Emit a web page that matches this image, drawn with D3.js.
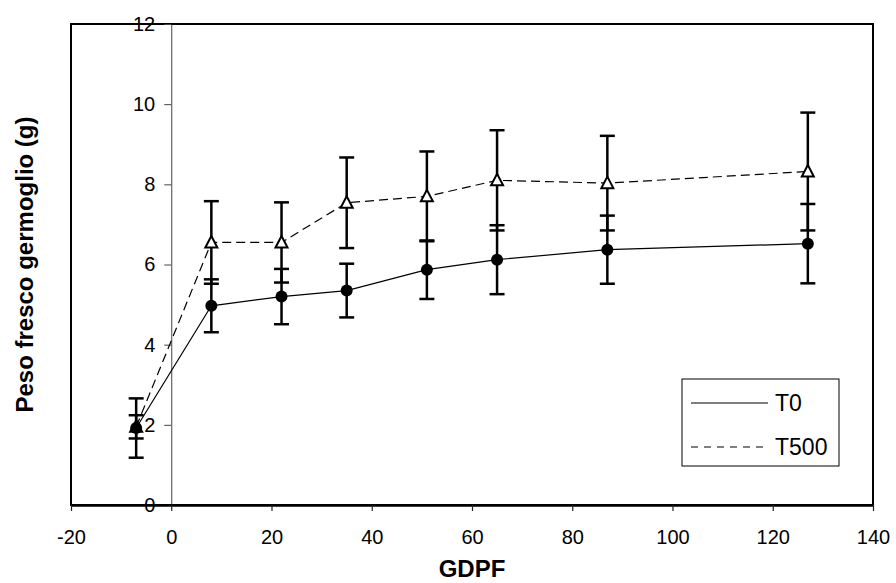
<!DOCTYPE html>
<html>
<head>
<meta charset="utf-8">
<script src="https://cdn.jsdelivr.net/npm/d3@7"></script>
<style>
  body { margin: 0; background: #fff; }
  text { font-family: Arial, "Liberation Sans", sans-serif; }
</style>
</head>
<body>
<svg id="chart" width="896" height="583"></svg>
<script>
// GDPF values and series
var gdpf = [-7, 8, 22, 35, 51, 65, 87, 127];
var t0Mean = [1.92, 4.97, 5.2, 5.35, 5.87, 6.12, 6.37, 6.52];
var t0Err = [0.74, 0.66, 0.69, 0.67, 0.73, 0.86, 0.85, 0.99];
var t500Mean = [1.95, 6.55, 6.55, 7.54, 7.7, 8.1, 8.03, 8.32];
var t500Err = [0.29, 1.03, 1.0, 1.13, 1.12, 1.25, 1.18, 1.47];

var xTicks = [-20, 0, 20, 40, 60, 80, 100, 120, 140];
var yTicks = [0, 2, 4, 6, 8, 10, 12];
var seriesNames = ['T0', 'T500'];

var svg = d3.select('#chart');

var plot = { l: 71, r: 873, t: 24, b: 505 };

var xScale = d3.scaleLinear().domain([-20, 140]).range([plot.l, plot.r]);
var yScale = d3.scaleLinear().domain([0, 12]).range([plot.b, plot.t]);

var t0 = gdpf.map((g, i) => ({ x: g, y: t0Mean[i], e: t0Err[i] }));
var t500 = gdpf.map((g, i) => ({ x: g, y: t500Mean[i], e: t500Err[i] }));

// plot frame
svg.append('rect')
    .attr('x', plot.l)
    .attr('y', plot.t)
    .attr('width', plot.r - plot.l)
    .attr('height', plot.b - plot.t)
    .attr('fill', 'none')
    .attr('stroke', '#000')
    .attr('stroke-width', 2);

// y axis sits on x = 0
var yAxis = d3.axisLeft(yScale).tickValues(yTicks).tickSize(7).tickPadding(9)
    .tickSizeOuter(0).tickFormat(d => String(d));
var gy = svg.append('g')
    .attr('transform', 'translate(' + xScale(0) + ',0)')
    .call(yAxis);
gy.select('.domain').attr('stroke', '#444').attr('stroke-width', 1);
gy.selectAll('.tick line').attr('stroke', '#444');
gy.selectAll('text').attr('font-size', 20).attr('fill', '#000');

// x axis on the bottom
var xAxis = d3.axisBottom(xScale).tickValues(xTicks).tickSize(6).tickPadding(19)
    .tickSizeOuter(0).tickFormat(d => String(d));
var gx = svg.append('g')
    .attr('transform', 'translate(0,' + plot.b + ')')
    .call(xAxis);
gx.select('.domain').attr('stroke', '#000').attr('stroke-width', 2.5);
gx.selectAll('.tick line').attr('stroke', '#222').attr('stroke-width', 1.2);
gx.selectAll('text').attr('font-size', 20).attr('fill', '#000');

// axis titles
svg.append('text')
    .attr('x', (plot.l + plot.r) / 2)
    .attr('y', 577)
    .attr('text-anchor', 'middle')
    .attr('font-size', 24)
    .attr('font-weight', 'bold')
    .text('GDPF');

svg.append('text')
    .attr('transform', 'translate(33,' + (plot.t + plot.b) / 2 + ') rotate(-90)')
    .attr('text-anchor', 'middle')
    .attr('font-size', 24)
    .attr('font-weight', 'bold')
    .text('Peso fresco germoglio (g)');

// series lines
var line = d3.line()
    .x(d => xScale(d.x))
    .y(d => yScale(d.y));

svg.append('path')
    .datum(t0)
    .attr('d', line)
    .attr('fill', 'none')
    .attr('stroke', '#000')
    .attr('stroke-width', 1.2);

svg.append('path')
    .datum(t500)
    .attr('d', line)
    .attr('fill', 'none')
    .attr('stroke', '#000')
    .attr('stroke-width', 1.2)
    .attr('stroke-dasharray', '9,5');

// error bars
function drawErrors(data) {
    var g = svg.append('g')
        .attr('stroke', '#000')
        .attr('stroke-width', 2.5);
    g.selectAll('.stem')
        .data(data)
        .enter()
        .append('line')
        .attr('x1', d => xScale(d.x))
        .attr('x2', d => xScale(d.x))
        .attr('y1', d => yScale(d.y - d.e))
        .attr('y2', d => yScale(d.y + d.e));
    g.selectAll('.capTop')
        .data(data)
        .enter()
        .append('line')
        .attr('x1', d => xScale(d.x) - 7.5)
        .attr('x2', d => xScale(d.x) + 7.5)
        .attr('y1', d => yScale(d.y + d.e))
        .attr('y2', d => yScale(d.y + d.e));
    g.selectAll('.capBot')
        .data(data)
        .enter()
        .append('line')
        .attr('x1', d => xScale(d.x) - 7.5)
        .attr('x2', d => xScale(d.x) + 7.5)
        .attr('y1', d => yScale(d.y - d.e))
        .attr('y2', d => yScale(d.y - d.e));
}
drawErrors(t0);
drawErrors(t500);

// markers
svg.selectAll('.tri')
    .data(t500)
    .enter()
    .append('path')
    .attr('transform', d => 'translate(' + xScale(d.x) + ',' + yScale(d.y) + ')')
    .attr('d', 'M0,-6.5L6,5L-6,5Z')
    .attr('fill', '#fff')
    .attr('stroke', '#000')
    .attr('stroke-width', 2);

svg.selectAll('.dot')
    .data(t0)
    .enter()
    .append('circle')
    .attr('cx', d => xScale(d.x))
    .attr('cy', d => yScale(d.y))
    .attr('r', 6)
    .attr('fill', '#000');

// legend
var legend = svg.append('g');
legend.append('rect')
    .attr('x', 682)
    .attr('y', 379)
    .attr('width', 157)
    .attr('height', 87)
    .attr('fill', '#fff')
    .attr('stroke', '#000')
    .attr('stroke-width', 1);

var legendY = [403, 447];
seriesNames.forEach(function (name, i) {
    legend.append('line')
        .attr('x1', 691)
        .attr('x2', 768)
        .attr('y1', legendY[i])
        .attr('y2', legendY[i])
        .attr('stroke', '#000')
        .attr('stroke-width', 1.2)
        .attr('stroke-dasharray', i === 1 ? '7,6' : null);
    legend.append('text')
        .attr('x', 775)
        .attr('y', legendY[i] + 8)
        .attr('font-size', 23)
        .text(name);
});
</script>
</body>
</html>
